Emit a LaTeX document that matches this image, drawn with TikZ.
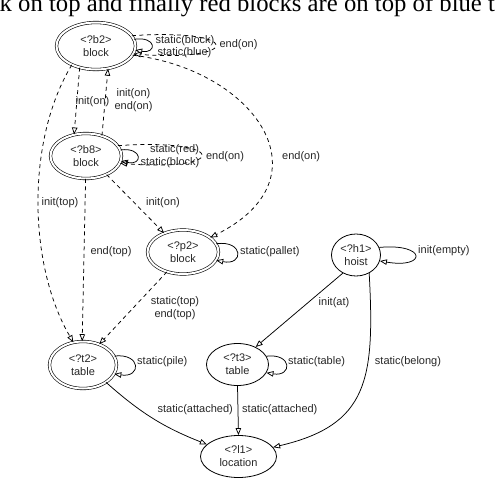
\documentclass[tikz,border=0pt]{standalone}
\usepackage{fontspec}
\setmainfont{Liberation Sans}
\newfontfamily\paperfont{Liberation Serif}
\usetikzlibrary{shapes.geometric,arrows.meta}
\begin{document}
\begin{tikzpicture}[x=1pt,y=-1pt,
 every node/.style={font=\fontsize{11}{13}\selectfont, inner sep=0pt, text=black!85},
 dbl/.style={ellipse, draw, line width=0.6pt, double, double distance=2pt, align=center},
 sgl/.style={ellipse, draw, line width=0.8pt, align=center},
 conn/.style={line width=0.75pt, -{Triangle[open,length=7pt,width=5.5pt]}},
 dconn/.style={conn, dash pattern=on 4pt off 3.5pt},
 lab/.style={align=center}
]
\useasboundingbox (0,0) rectangle (496,504);
\node[anchor=base west, font=\paperfont\fontsize{24.7}{28}\selectfont, text=black] (hdr) at (-0.5,11.5) {k on top and finally red blocks are on top of blue t};

% nodes
\node[dbl, minimum width=79pt, minimum height=47pt] (b2) at (96,46) {<?b2>\\block};
\node[dbl, minimum width=71pt, minimum height=45pt] (b8) at (86,156) {<?b8>\\block};
\node[dbl, minimum width=71pt, minimum height=44pt] (p2) at (183,252) {<?p2>\\block};
\node[dbl, minimum width=67pt, minimum height=47pt] (t2) at (83,365) {<?t2>\\table};
\node[sgl, minimum width=49pt, minimum height=42pt] (h1) at (356,255) {<?h1>\\hoist};
\node[sgl, minimum width=62pt, minimum height=42pt] (t3) at (237.5,364.5) {<?t3>\\table};
\node[sgl, minimum width=76pt, minimum height=42pt] (l1) at (238.5,456.5) {<?l1>\\location};

% self loops
\draw[conn] (b2.10) .. controls (157,36) and (157,54) .. (b2.-6);
\draw[dconn] (b2.16) .. controls (243,28) and (243,62) .. (b2.-12);
\draw[conn] (b8.10) .. controls (143,147) and (143,166) .. (b8.-8);
\draw[dconn] (b8.18) .. controls (229,138) and (229,172) .. (b8.-12);
\draw[conn] (p2.14) .. controls (244,240) and (244,266) .. (p2.-14);
\draw[conn] (h1.18) .. controls (427,243) and (427,269) .. (h1.-14);
\draw[conn] (t2.16) .. controls (141.5,353) and (141.5,378) .. (t2.-16);
\draw[conn] (t3.16) .. controls (292.5,353) and (292.5,377) .. (t3.-16);

% edges
\draw[dconn] (b2.-127) -- (b8.119);
\draw[dconn] (b8.52) -- (b2.-62);
\draw[dconn] (b2.-142) .. controls (26,140) and (28,265) .. (t2.113);
\draw[dconn] (b8.-91) -- (t2.92);
\draw[dconn] (b8.-42) -- (p2.135);
\draw[dconn] (p2.-129) -- (t2.52);
\draw[dconn] (b2.-14) .. controls (255,70) and (330,178) .. (p2.28);
\draw[conn] (h1.-126) -- (t3.44);
\draw[conn] (h1.-54) .. controls (375,380) and (368,425) .. (l1.15);
\draw[conn] (t3.south) -- (l1.north);
\draw[conn] (t2.-37) to[bend right=10] (l1.159);

% labels
\node (lb2a) at (185,41) {static(block)};
\node (lb2b) at (184.5,53) {static(blue)};
\node (lb2c) at (238.5,45) {end(on)};
\node (lb8a) at (174.5,150) {static(red)};
\node (lb8b) at (170,163) {static(block)};
\node (lb8c) at (225,157) {end(on)};
\node (l1a) at (92.5,102) {init(on)};
\node[lab] (l1b) at (133.5,100) {init(on)\\end(on)};
\node (l1c) at (60,203) {init(top)};
\node (l1d) at (111,252) {end(top)};
\node (l1e) at (163,203) {init(on)};
\node[anchor=west] (l1f) at (282,157) {end(on)};
\node[lab] (l1g) at (175,308) {static(top)\\end(top)};
\node[anchor=west] (l1h) at (240,252) {static(pallet)};
\node[anchor=west] (l1i) at (418,251) {init(empty)};
\node[anchor=west] (l1j) at (288,362) {static(table)};
\node[anchor=west] (l1k) at (137,362) {static(pile)};
\node (l1l) at (408,362) {static(belong)};
\node[anchor=west] (l1m) at (242,410) {static(attached)};
\node[anchor=east] (l1n) at (233,410) {static(attached)};
\node (l1o) at (334,303) {init(at)};
\end{tikzpicture}
\end{document}
